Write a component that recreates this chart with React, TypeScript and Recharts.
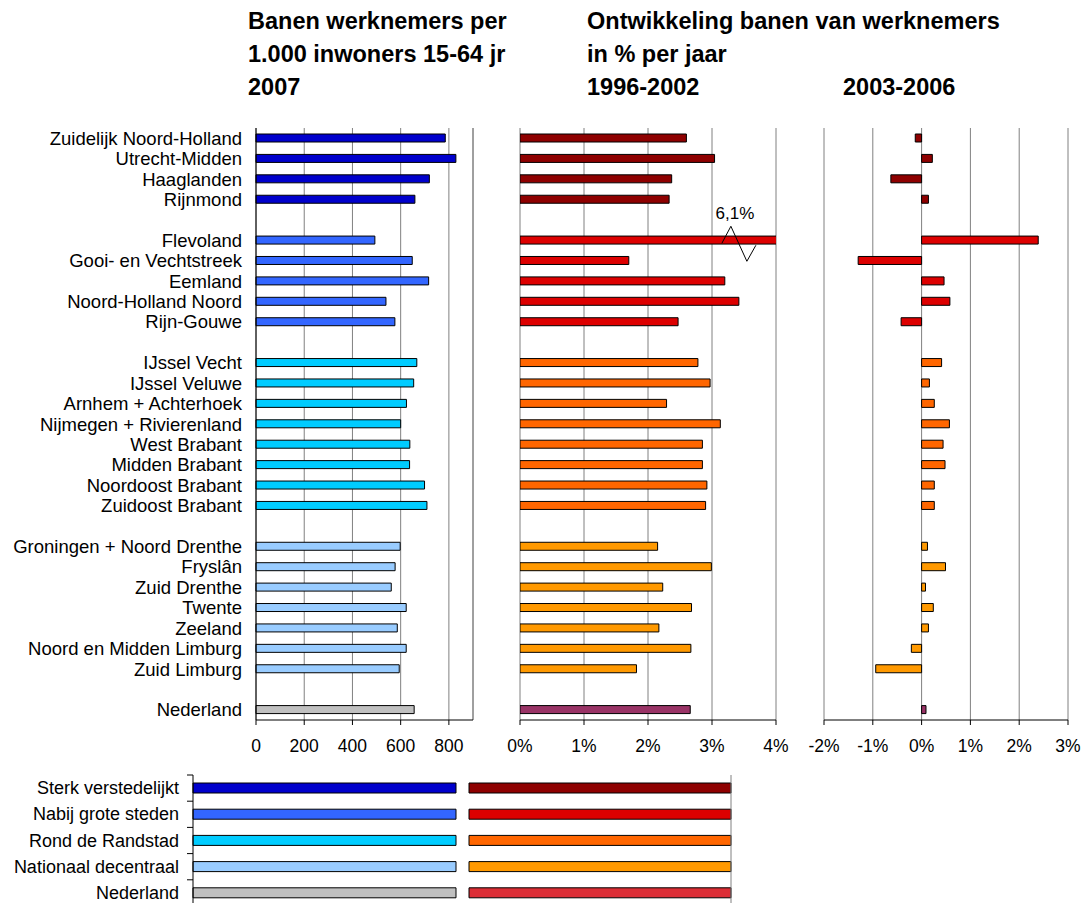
import React from "react";
import { Bar, BarChart, CartesianGrid, Cell, ReferenceDot, ReferenceLine, XAxis, YAxis } from "recharts";

const FONT = '"Liberation Sans", Arial, sans-serif';

// regio's, lege rijen ("_n") zijn witregels tussen de groepen
const regions = [
  "Zuidelijk Noord-Holland", "Utrecht-Midden", "Haaglanden", "Rijnmond", "_1",
  "Flevoland", "Gooi- en Vechtstreek", "Eemland", "Noord-Holland Noord", "Rijn-Gouwe", "_2",
  "IJssel Vecht", "IJssel Veluwe", "Arnhem + Achterhoek", "Nijmegen + Rivierenland", "West Brabant",
  "Midden Brabant", "Noordoost Brabant", "Zuidoost Brabant", "_3",
  "Groningen + Noord Drenthe", "Fryslân", "Zuid Drenthe", "Twente", "Zeeland",
  "Noord en Midden Limburg", "Zuid Limburg", "_4",
  "Nederland"
];

const groups = [
  "sterk", "sterk", "sterk", "sterk", "gap",
  "nabij", "nabij", "nabij", "nabij", "nabij", "gap",
  "rond", "rond", "rond", "rond", "rond", "rond", "rond", "rond", "gap",
  "nationaal", "nationaal", "nationaal", "nationaal", "nationaal", "nationaal", "nationaal", "gap",
  "nederland"
];

// banen werknemers per 1.000 inwoners 15-64 jr, 2007
const jobsPer1000 = [
  785, 829, 719, 659, null,
  493, 648, 716, 539, 576, null,
  667, 654, 624, 600, 638, 637, 699, 709, null,
  598, 577, 561, 623, 586, 623, 594, null,
  656
];

// ontwikkeling banen in % per jaar, 1996-2002
const growth9602 = [
  2.6, 3.04, 2.37, 2.33, null,
  6.1, 1.7, 3.2, 3.42, 2.47, null,
  2.78, 2.97, 2.29, 3.13, 2.85, 2.85, 2.92, 2.9, null,
  2.15, 2.99, 2.23, 2.68, 2.17, 2.67, 1.82, null,
  2.66
];

// ontwikkeling banen in % per jaar, 2003-2006
const growth0306 = [
  -0.13, 0.22, -0.63, 0.14, null,
  2.39, -1.3, 0.46, 0.58, -0.42, null,
  0.41, 0.16, 0.26, 0.57, 0.44, 0.48, 0.26, 0.26, null,
  0.12, 0.49, 0.08, 0.24, 0.14, -0.21, -0.94, null,
  0.09
];

const jobsTicks = [0, 200, 400, 600, 800];
const growthTicksA = [0, 1, 2, 3, 4];
const growthTicksB = [-2, -1, 0, 1, 2, 3];

const legendLabels = ["Sterk verstedelijkt", "Nabij grote steden", "Rond de Randstad", "Nationaal decentraal", "Nederland"];
const legendGroups = ["sterk", "nabij", "rond", "nationaal", "nederland"];

const blueColors: Record<string, string> = {
  sterk: "#0000CC",
  nabij: "#3366FF",
  rond: "#00CCFF",
  nationaal: "#99CCFF",
  nederland: "#C0C0C0"
};
const redColors: Record<string, string> = {
  sterk: "#8E0000",
  nabij: "#DD0000",
  rond: "#FF6600",
  nationaal: "#FF9900",
  nederland: "#993366"
};
const legendRedNederland = "#DC2E36";

const rows = regions.map((label, i) => ({
  label,
  group: groups[i],
  jobs: jobsPer1000[i],
  g1: growth9602[i],
  g2: growth0306[i]
}));

const legendRows = legendLabels.map((label, i) => ({ label, group: legendGroups[i], full: 1 }));

const BREAK_AT = 3.42;
const flevoValue = growth9602[regions.indexOf("Flevoland")] as number;

const hideGap = (v: string) => (v.startsWith("_") ? "" : v);
const pct = (v: number) => `${v}%`;

const tickStyle = { fill: "#000", fontSize: 17.5 };
const GRID = "#808080";

function BreakMark(props: any) {
  const { cx, cy } = props;
  return (
    <g>
      <polyline
        points={`${cx - 17},${cy + 3} ${cx - 8},${cy - 14} ${cx + 8},${cy + 21} ${cx + 17},${cy + 5}`}
        fill="none"
        stroke="#000"
        strokeWidth={1}
      />
      <text x={cx - 4} y={cy - 27} textAnchor="middle" dominantBaseline="central" fontSize={17} fill="#000">
        {`${String(flevoValue).replace(".", ",")}%`}
      </text>
    </g>
  );
}

function LegendTick(props: any) {
  const { x, y, payload } = props;
  const off = payload.offset ?? 13;
  return (
    <g>
      <text x={x} y={y} textAnchor="end" dominantBaseline="central" fontSize={18} fill="#000">
        {payload.value}
      </text>
      <line x1={x + 8} x2={x + 14} y1={y - off} y2={y - off} stroke="#000" />
    </g>
  );
}

const titleStyle: React.CSSProperties = {
  position: "absolute",
  top: 5,
  fontWeight: "bold",
  fontSize: 23.5,
  lineHeight: "33px",
  whiteSpace: "nowrap",
  color: "#000"
};

export default function App() {
  return (
    <div
      style={{
        position: "absolute",
        left: 0,
        top: 0,
        width: 1085,
        height: 903,
        overflow: "hidden",
        background: "#fff",
        fontFamily: FONT
      }}
    >
      <div style={{ ...titleStyle, left: 248 }}>
        Banen werknemers per
        <br />
        1.000 inwoners 15-64 jr
        <br />
        2007
      </div>
      <div style={{ ...titleStyle, left: 587 }}>
        Ontwikkeling banen van werknemers
        <br />
        in % per jaar
        <br />
        1996-2002
      </div>
      <div style={{ ...titleStyle, left: 843, top: 71 }}>2003-2006</div>

      {/* banen per 1.000 inwoners */}
      <div style={{ position: "absolute", left: 0, top: 118 }}>
        <BarChart
          layout="vertical"
          width={481}
          height={642}
          data={rows}
          margin={{ top: 10, right: 8, bottom: 0, left: 0 }}
          barCategoryGap={0}
        >
          <CartesianGrid horizontal={false} stroke={GRID} />
          <XAxis
            type="number"
            domain={[0, 900]}
            ticks={jobsTicks}
            interval={0}
            height={40}
            tickSize={5}
            tickMargin={15}
            axisLine={{ stroke: "#000" }}
            tickLine={{ stroke: "#000" }}
            tick={tickStyle}
          />
          <XAxis
            xAxisId="top"
            orientation="top"
            type="number"
            domain={[0, 900]}
            height={0}
            tick={false}
            tickLine={false}
            axisLine={{ stroke: GRID }}
          />
          <YAxis
            type="category"
            dataKey="label"
            width={256}
            interval={0}
            tickLine={false}
            tickSize={0}
            tickMargin={14}
            axisLine={{ stroke: "#000" }}
            tick={{ fill: "#000", fontSize: 18.5 }}
            tickFormatter={hideGap}
          />
          <ReferenceLine x={900} stroke={GRID} />
          <Bar dataKey="jobs" barSize={8} stroke="#000" strokeWidth={1} isAnimationActive={false}>
            {rows.map((r) => (
              <Cell key={r.label} fill={blueColors[r.group] ?? "#fff"} />
            ))}
          </Bar>
        </BarChart>
      </div>

      {/* 1996-2002 */}
      <div style={{ position: "absolute", left: 490, top: 118 }}>
        <BarChart
          layout="vertical"
          width={300}
          height={642}
          data={rows}
          margin={{ top: 10, right: 14, bottom: 0, left: 30 }}
          barCategoryGap={0}
        >
          <CartesianGrid horizontal={false} stroke={GRID} />
          <XAxis
            type="number"
            domain={[0, 4]}
            allowDataOverflow
            ticks={growthTicksA}
            interval={0}
            height={40}
            tickSize={5}
            tickMargin={15}
            axisLine={{ stroke: "#000" }}
            tickLine={{ stroke: "#000" }}
            tick={tickStyle}
            tickFormatter={pct}
          />
          <XAxis
            xAxisId="top"
            orientation="top"
            type="number"
            domain={[0, 4]}
            height={0}
            tick={false}
            tickLine={false}
            axisLine={{ stroke: GRID }}
          />
          <YAxis type="category" dataKey="label" width={0} tick={false} tickLine={false} axisLine={{ stroke: "#000" }} />
          <Bar dataKey="g1" barSize={8} stroke="#000" strokeWidth={1} isAnimationActive={false}>
            {rows.map((r) => (
              <Cell key={r.label} fill={redColors[r.group] ?? "#fff"} />
            ))}
          </Bar>
          <ReferenceDot x={BREAK_AT} y="Flevoland" r={0} shape={(p: any) => <BreakMark {...p} />} />
        </BarChart>
      </div>

      {/* 2003-2006 */}
      <div style={{ position: "absolute", left: 794, top: 118 }}>
        <BarChart
          layout="vertical"
          width={291}
          height={642}
          data={rows}
          margin={{ top: 10, right: 17, bottom: 0, left: 30 }}
          barCategoryGap={0}
        >
          <CartesianGrid horizontal={false} stroke={GRID} />
          <XAxis
            type="number"
            domain={[-2, 3]}
            ticks={growthTicksB}
            interval={0}
            height={40}
            tickSize={5}
            tickMargin={15}
            axisLine={{ stroke: "#000" }}
            tickLine={{ stroke: "#000" }}
            tick={tickStyle}
            tickFormatter={pct}
          />
          <XAxis
            xAxisId="top"
            orientation="top"
            type="number"
            domain={[-2, 3]}
            height={0}
            tick={false}
            tickLine={false}
            axisLine={{ stroke: GRID }}
          />
          <YAxis type="category" dataKey="label" width={0} tick={false} tickLine={false} axisLine={{ stroke: "#000" }} />
          <Bar dataKey="g2" barSize={8} stroke="#000" strokeWidth={1} isAnimationActive={false}>
            {rows.map((r) => (
              <Cell key={r.label} fill={redColors[r.group] ?? "#fff"} />
            ))}
          </Bar>
        </BarChart>
      </div>

      {/* legenda blauw */}
      <div style={{ position: "absolute", left: 0, top: 765 }}>
        <BarChart
          layout="vertical"
          width={457}
          height={141}
          data={legendRows}
          margin={{ top: 10, right: 1, bottom: 0, left: 0 }}
          barCategoryGap={0}
        >
          <XAxis type="number" domain={[0, 1]} hide />
          <XAxis
            xAxisId="top"
            orientation="top"
            type="number"
            domain={[0, 1]}
            height={0}
            tick={false}
            tickLine={false}
            axisLine={{ stroke: GRID }}
          />
          <YAxis
            type="category"
            dataKey="label"
            width={193}
            interval={0}
            tickSize={6}
            tickMargin={8}
            tickLine={false}
            axisLine={{ stroke: "#000" }}
            tick={<LegendTick />}
          />
          <Bar dataKey="full" barSize={10} stroke="#000" strokeWidth={1} isAnimationActive={false}>
            {legendRows.map((r) => (
              <Cell key={r.label} fill={blueColors[r.group]} />
            ))}
          </Bar>
        </BarChart>
      </div>

      {/* legenda rood */}
      <div style={{ position: "absolute", left: 440, top: 765 }}>
        <BarChart
          layout="vertical"
          width={300}
          height={141}
          data={legendRows}
          margin={{ top: 10, right: 9, bottom: 0, left: 29 }}
          barCategoryGap={0}
        >
          <XAxis type="number" domain={[0, 1]} hide />
          <XAxis
            xAxisId="top"
            orientation="top"
            type="number"
            domain={[0, 1]}
            height={0}
            tick={false}
            tickLine={false}
            axisLine={{ stroke: GRID }}
          />
          <YAxis type="category" dataKey="label" width={0} tick={false} tickLine={false} axisLine={{ stroke: GRID }} />
          <ReferenceLine x={1} stroke={GRID} />
          <Bar dataKey="full" barSize={10} stroke="#000" strokeWidth={1} isAnimationActive={false}>
            {legendRows.map((r) => (
              <Cell key={r.label} fill={r.group === "nederland" ? legendRedNederland : redColors[r.group]} />
            ))}
          </Bar>
        </BarChart>
      </div>
    </div>
  );
}
